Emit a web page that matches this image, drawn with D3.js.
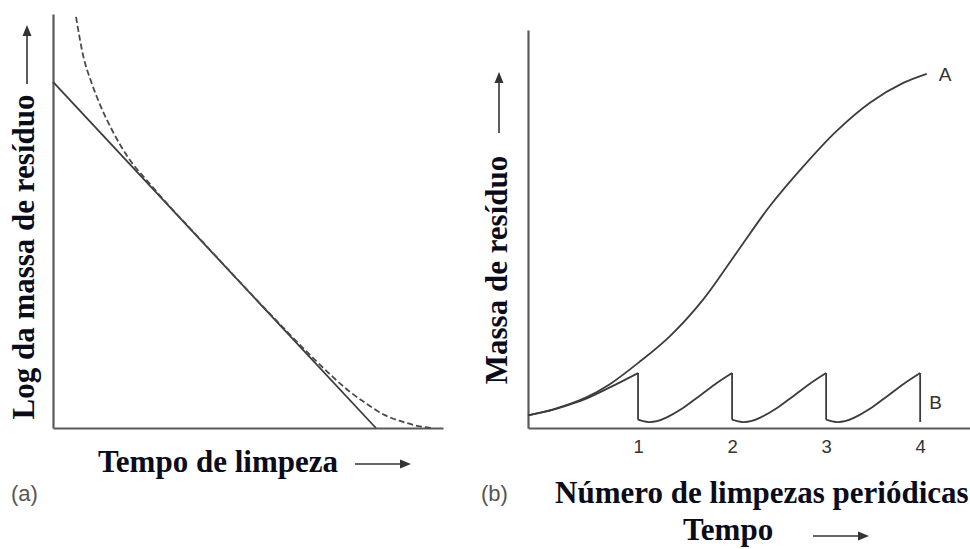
<!DOCTYPE html>
<html><head><meta charset="utf-8">
<script src="https://cdn.jsdelivr.net/npm/d3@7/dist/d3.min.js"></script>
<style>body{margin:0;background:#fff}svg{display:block}</style>
</head><body>
<svg id="c" width="970" height="549"></svg>
<script>
// ---- Panel (a) data: log residue mass vs cleaning time (arbitrary units 0-100)
const aLineX = [0, 82.8];
const aLineY = [83.6, 0];
const aDashX = [5.9, 7.7, 10.0, 12.1, 15.4, 19.0, 25, 40, 55, 66.7, 71.8, 76.2, 80.5, 85.1, 89.0, 94.1, 97.4];
const aDashY = [99.3, 90.1, 83.1, 78.0, 71.5, 65.7, 58.8, 43.3, 28.2, 16.9, 12.3, 8.7, 5.8, 3.1, 1.7, 0.4, 0];

// ---- Panel (b) data: residue mass vs number of periodic cleanings
const bTicks = [1, 2, 3, 4];
const curveAX = [-0.17, 0.10, 0.45, 0.70, 1.01, 1.34, 1.69, 2.05, 2.40, 2.76, 3.11, 3.47, 3.82, 4.07];
const curveAY = [3.2, 4.7, 7.7, 11.0, 16.5, 23.1, 32.2, 44.1, 55.7, 65.8, 74.6, 81.8, 86.7, 89.0];
const curveBX = [-0.17, 0.10, 0.30, 0.45, 0.70, 1.0,
                 1.0, 1.11, 1.2, 1.3, 1.47, 1.65, 1.82, 2.0,
                 2.0, 2.11, 2.2, 2.3, 2.47, 2.65, 2.82, 3.0,
                 3.0, 3.11, 3.2, 3.3, 3.47, 3.65, 3.82, 4.0,
                 4.0];
const curveBY = [3.2, 4.6, 6.1, 7.4, 10.2, 13.8,
                 2.1, 1.5, 1.7, 2.6, 4.9, 8.0, 11.0, 13.8,
                 2.1, 1.5, 1.7, 2.6, 4.9, 8.0, 11.0, 13.8,
                 2.1, 1.5, 1.7, 2.6, 4.9, 8.0, 11.0, 13.8,
                 1.5];

const svg = d3.select("#c");
const ink = "#3c3c3c", axisInk = "#5a5a5a";
const serif = "'Liberation Serif','Times New Roman',serif";
const sans = "'Liberation Sans',Arial,sans-serif";

// ---------- Panel (a)
const xa = d3.scaleLinear().domain([0, 100]).range([53, 443]);
const ya = d3.scaleLinear().domain([0, 100]).range([428, 14]);
function styleAxis(g){ g.select(".domain").attr("stroke", axisInk).attr("stroke-width", 2.2); g.selectAll(".tick line").remove(); }
svg.append("g").attr("transform", `translate(0,${ya(0)})`)
  .call(d3.axisBottom(xa).tickValues([]).tickSizeOuter(0)).call(styleAxis);
svg.append("g").attr("transform", `translate(${xa(0)},0)`)
  .call(d3.axisLeft(ya).tickValues([]).tickSizeOuter(0)).call(styleAxis);

const lineA = d3.line().x(d => xa(d[0])).y(d => ya(d[1]));
svg.append("path").attr("d", lineA(d3.zip(aLineX, aLineY)))
  .attr("fill", "none").attr("stroke", ink).attr("stroke-width", 1.8);
svg.append("path").attr("d", lineA.curve(d3.curveMonotoneX)(d3.zip(aDashX, aDashY)))
  .attr("fill", "none").attr("stroke", "#4a4a4a").attr("stroke-width", 1.8)
  .attr("stroke-dasharray", "6,3");

// ---------- Panel (b)
const xb = d3.scaleLinear().domain([-0.17, 4.53]).range([528, 970]);
const yb = d3.scaleLinear().domain([0, 100]).range([428, 30]);
const gx = svg.append("g").attr("transform", `translate(0,${yb(0)})`)
  .call(d3.axisBottom(xb).tickValues(bTicks).tickSize(0).tickSizeOuter(0).tickPadding(12).tickFormat(d3.format("d")))
  .call(styleAxis);
gx.selectAll(".tick text").attr("font-family", sans).attr("font-size", 18.5).attr("fill", "#333");
svg.append("g").attr("transform", `translate(${xb(-0.17)},0)`)
  .call(d3.axisLeft(yb).tickValues([]).tickSizeOuter(0)).call(styleAxis);

const smooth = d3.line().x(d => xb(d[0])).y(d => yb(d[1])).curve(d3.curveCatmullRom.alpha(0.5));
const straight = d3.line().x(d => xb(d[0])).y(d => yb(d[1]));
svg.append("path").attr("d", smooth(d3.zip(curveAX, curveAY)))
  .attr("fill", "none").attr("stroke", ink).attr("stroke-width", 1.8);

// curve B: split into rising runs at vertical drops
const bPts = d3.zip(curveBX, curveBY);
const runs = [[bPts[0]]];
for (let i = 1; i < bPts.length; i++) {
  if (bPts[i][0] === bPts[i-1][0]) runs.push([bPts[i]]);
  else runs[runs.length-1].push(bPts[i]);
}
runs.forEach((r, i) => {
  if (r.length > 1) svg.append("path").attr("d", smooth(r))
    .attr("fill", "none").attr("stroke", ink).attr("stroke-width", 1.8);
  if (i > 0) {
    const prev = runs[i-1];
    svg.append("path").attr("d", straight([prev[prev.length-1], r[0]]))
      .attr("fill", "none").attr("stroke", ink).attr("stroke-width", 1.8);
  }
});

svg.append("text").attr("x", xb(curveAX[curveAX.length-1]) + 12).attr("y", yb(curveAY[curveAY.length-1]) + 7)
  .attr("font-family", sans).attr("font-size", 19).attr("fill", "#333").text("A");
svg.append("text").attr("x", xb(4) + 9).attr("y", 409)
  .attr("font-family", sans).attr("font-size", 19).attr("fill", "#333").text("B");

// ---------- Labels
function label(x, y, txt, rot, anchor){
  const t = svg.append("text").attr("font-family", serif).attr("font-weight", "bold")
    .attr("font-size", 31).attr("fill", "#0b0b1a").attr("text-anchor", anchor || "middle").text(txt);
  if (rot) t.attr("transform", `translate(${x},${y}) rotate(-90)`);
  else t.attr("x", x).attr("y", y);
}
label(34, 257, "Log da massa de resíduo", true);
label(98, 472, "Tempo de limpeza", false, "start");
label(507, 270, "Massa de resíduo", true);
label(555, 503, "Número de limpezas periódicas", false, "start");
label(683, 540, "Tempo", false, "start");

svg.append("text").attr("x", 11).attr("y", 501).attr("font-family", sans).attr("font-size", 22)
  .attr("fill", "#555").text("(a)");
svg.append("text").attr("x", 481).attr("y", 501).attr("font-family", sans).attr("font-size", 22)
  .attr("fill", "#555").text("(b)");

// arrows
function arrow(x1, y1, x2, y2){
  const ang = Math.atan2(y2 - y1, x2 - x1), L = 11, W = 4.5;
  const bx = x2 - L*Math.cos(ang), by = y2 - L*Math.sin(ang);
  svg.append("line").attr("x1", x1).attr("y1", y1).attr("x2", bx).attr("y2", by)
    .attr("stroke", "#333").attr("stroke-width", 1.6);
  const px = -Math.sin(ang)*W, py = Math.cos(ang)*W;
  svg.append("path").attr("d", `M${x2},${y2}L${bx+px},${by+py}L${bx-px},${by-py}Z`).attr("fill", "#333");
}
arrow(27, 84, 27, 25);
arrow(355, 464, 411, 464);
arrow(499, 133, 499, 72);
arrow(813, 536, 869, 536);
</script>
</body></html>
